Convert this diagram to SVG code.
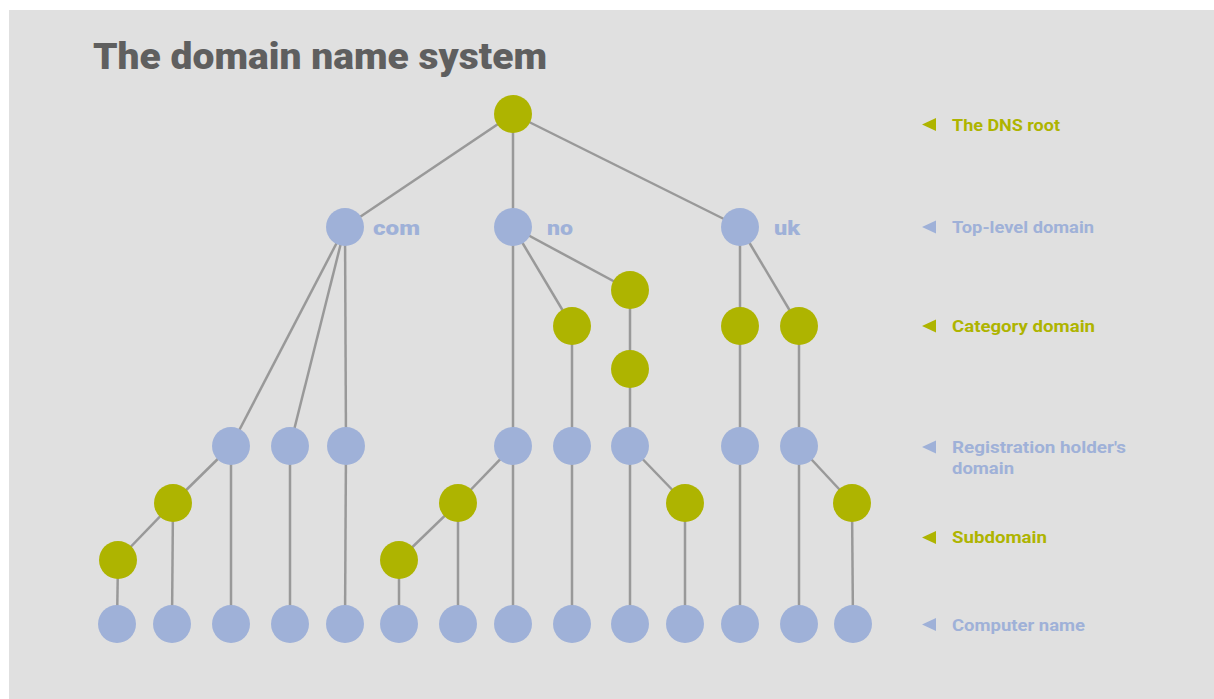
<svg xmlns="http://www.w3.org/2000/svg" width="1214" height="699" viewBox="0 0 1214 699">
<style>
.bg{fill:#e0e0e0}
.g{fill:#aeb400}
.b{fill:#9fb1d8}
.e line{stroke:#999;stroke-width:2.5}
.t{font-family:Roboto,"Liberation Sans",sans-serif;font-weight:900}
.lg{font-family:Roboto,"Liberation Sans",sans-serif;font-weight:bold;font-size:16.5px}
.gt{fill:#aeb400}
.bt{fill:#9fb1d8}
</style>
<rect x="0" y="0" width="1214" height="699" fill="#ffffff"/>
<rect class="bg" x="9" y="10" width="1205" height="689"/>
<text class="t" x="93" y="69" font-size="36" fill="#5f5f5f" textLength="454" lengthAdjust="spacingAndGlyphs">The domain name system</text>
<g id="connectors" class="e">
<line x1="513" y1="114" x2="345" y2="227"/>
<line x1="513" y1="114" x2="513" y2="227"/>
<line x1="513" y1="114" x2="740" y2="227"/>
<line x1="345" y1="227" x2="231" y2="446"/>
<line x1="345" y1="227" x2="290" y2="446"/>
<line x1="345" y1="227" x2="346" y2="446"/>
<line x1="513" y1="227" x2="513" y2="446"/>
<line x1="513" y1="227" x2="572" y2="326"/>
<line x1="513" y1="227" x2="630" y2="290"/>
<line x1="630" y1="290" x2="630" y2="369"/>
<line x1="630" y1="369" x2="630" y2="446"/>
<line x1="572" y1="326" x2="572" y2="446"/>
<line x1="740" y1="227" x2="740" y2="326"/>
<line x1="740" y1="227" x2="799" y2="326"/>
<line x1="740" y1="326" x2="740" y2="446"/>
<line x1="799" y1="326" x2="799" y2="446"/>
<line x1="231" y1="446" x2="173" y2="503"/>
<line x1="173" y1="503" x2="118" y2="560"/>
<line x1="118" y1="560" x2="117" y2="624"/>
<line x1="173" y1="503" x2="172" y2="624"/>
<line x1="231" y1="446" x2="231" y2="624"/>
<line x1="290" y1="446" x2="290" y2="624"/>
<line x1="346" y1="446" x2="345" y2="624"/>
<line x1="513" y1="446" x2="458" y2="503"/>
<line x1="458" y1="503" x2="399" y2="560"/>
<line x1="399" y1="560" x2="399" y2="624"/>
<line x1="458" y1="503" x2="458" y2="624"/>
<line x1="513" y1="446" x2="513" y2="624"/>
<line x1="572" y1="446" x2="572" y2="624"/>
<line x1="630" y1="446" x2="630" y2="624"/>
<line x1="630" y1="446" x2="685" y2="503"/>
<line x1="685" y1="503" x2="685" y2="624"/>
<line x1="740" y1="446" x2="740" y2="624"/>
<line x1="799" y1="446" x2="799" y2="624"/>
<line x1="799" y1="446" x2="852" y2="503"/>
<line x1="852" y1="503" x2="853" y2="624"/>
</g>
<g id="root"><circle class="g" cx="513" cy="114" r="19"/></g>
<g id="com"><circle class="b" cx="345" cy="227" r="19"/><text class="t bt" x="373" y="235" font-size="21" textLength="47" lengthAdjust="spacingAndGlyphs">com</text></g>
<g id="no"><circle class="b" cx="513" cy="227" r="19"/><text class="t bt" x="547" y="235" font-size="21" textLength="26" lengthAdjust="spacingAndGlyphs">no</text></g>
<g id="uk"><circle class="b" cx="740" cy="227" r="19"/><text class="t bt" x="774" y="235" font-size="21" textLength="26" lengthAdjust="spacingAndGlyphs">uk</text></g>
<g id="cat1"><circle class="g" cx="630" cy="290" r="19"/></g>
<g id="cat2"><circle class="g" cx="572" cy="326" r="19"/></g>
<g id="cat3"><circle class="g" cx="630" cy="369" r="19"/></g>
<g id="cat4"><circle class="g" cx="740" cy="326" r="19"/></g>
<g id="cat5"><circle class="g" cx="799" cy="326" r="19"/></g>
<g id="reg1"><circle class="b" cx="231" cy="446" r="19"/></g>
<g id="reg2"><circle class="b" cx="290" cy="446" r="19"/></g>
<g id="reg3"><circle class="b" cx="346" cy="446" r="19"/></g>
<g id="reg4"><circle class="b" cx="513" cy="446" r="19"/></g>
<g id="reg5"><circle class="b" cx="572" cy="446" r="19"/></g>
<g id="reg6"><circle class="b" cx="630" cy="446" r="19"/></g>
<g id="reg7"><circle class="b" cx="740" cy="446" r="19"/></g>
<g id="reg8"><circle class="b" cx="799" cy="446" r="19"/></g>
<g id="sub1"><circle class="g" cx="173" cy="503" r="19"/></g>
<g id="sub2"><circle class="g" cx="118" cy="560" r="19"/></g>
<g id="sub3"><circle class="g" cx="458" cy="503" r="19"/></g>
<g id="sub4"><circle class="g" cx="399" cy="560" r="19"/></g>
<g id="sub5"><circle class="g" cx="685" cy="503" r="19"/></g>
<g id="sub6"><circle class="g" cx="852" cy="503" r="19"/></g>
<g id="pc1"><circle class="b" cx="117" cy="624" r="19"/></g>
<g id="pc2"><circle class="b" cx="172" cy="624" r="19"/></g>
<g id="pc3"><circle class="b" cx="231" cy="624" r="19"/></g>
<g id="pc4"><circle class="b" cx="290" cy="624" r="19"/></g>
<g id="pc5"><circle class="b" cx="345" cy="624" r="19"/></g>
<g id="pc6"><circle class="b" cx="399" cy="624" r="19"/></g>
<g id="pc7"><circle class="b" cx="458" cy="624" r="19"/></g>
<g id="pc8"><circle class="b" cx="513" cy="624" r="19"/></g>
<g id="pc9"><circle class="b" cx="572" cy="624" r="19"/></g>
<g id="pc10"><circle class="b" cx="630" cy="624" r="19"/></g>
<g id="pc11"><circle class="b" cx="685" cy="624" r="19"/></g>
<g id="pc12"><circle class="b" cx="740" cy="624" r="19"/></g>
<g id="pc13"><circle class="b" cx="799" cy="624" r="19"/></g>
<g id="pc14"><circle class="b" cx="853" cy="624" r="19"/></g>
<g id="legend">
<polygon class="g" points="922,124.5 936,118 936,131"/>
<text class="lg gt" x="952" y="131" textLength="108" lengthAdjust="spacingAndGlyphs">The DNS root</text>
<polygon class="b" points="922,227 936,220.5 936,233.5"/>
<text class="lg bt" x="952" y="233" textLength="142" lengthAdjust="spacingAndGlyphs">Top-level domain</text>
<polygon class="g" points="922,326 936,319.5 936,332.5"/>
<text class="lg gt" x="952" y="332" textLength="143" lengthAdjust="spacingAndGlyphs">Category domain</text>
<polygon class="b" points="922,447 936,440.5 936,453.5"/>
<text class="lg bt" x="952" y="453" textLength="174" lengthAdjust="spacingAndGlyphs">Registration holder's</text>
<text class="lg bt" x="952" y="474" textLength="62" lengthAdjust="spacingAndGlyphs">domain</text>
<polygon class="g" points="922,537.5 936,531 936,544"/>
<text class="lg gt" x="952" y="543" textLength="95" lengthAdjust="spacingAndGlyphs">Subdomain</text>
<polygon class="b" points="922,624.5 936,618 936,631"/>
<text class="lg bt" x="952" y="631" textLength="133" lengthAdjust="spacingAndGlyphs">Computer name</text>
</g>
</svg>
